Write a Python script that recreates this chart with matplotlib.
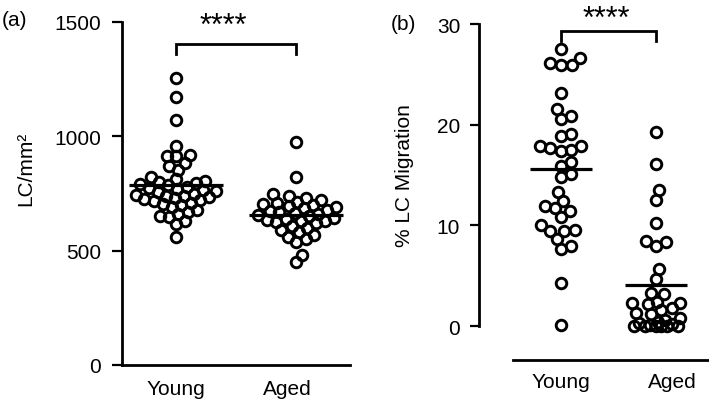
import numpy as np
import matplotlib
matplotlib.use("Agg")
import matplotlib.pyplot as plt

plt.rcParams['font.family'] = ['Liberation Sans', 'DejaVu Sans']

# ---------------- data ----------------
groups = ["Young", "Aged"]
lc_density_young = [1255, 1173, 1071, 959, 918, 912, 915, 882, 871, 854, 820, 813,
                    805, 800, 795, 790, 785, 780, 775, 770, 765, 760, 755, 750,
                    745, 740, 740, 735, 730, 726, 720, 718, 710, 705, 700, 690,
                    680, 670, 660, 650, 646, 630, 617, 558]
lc_density_aged = [974, 823, 748, 740, 730, 720, 715, 710, 705, 700, 695, 690,
                   685, 680, 675, 670, 665, 660, 655, 650, 645, 640, 635, 631,
                   631, 625, 620, 610, 600, 590, 580, 570, 560, 550, 540, 482, 449]
migration_young = [27.5, 26.6, 25.9, 25.9, 26.1, 23.1, 21.6, 20.9, 20.6, 19.1,
                   18.9, 17.9, 17.5, 17.4, 17.7, 17.9, 16.3, 15.9, 15.1, 14.8,
                   13.3, 12.4, 11.7, 11.9, 11.4, 10.8, 10.0, 9.5, 9.4, 9.4,
                   8.6, 7.9, 7.6, 4.3, 0.1]
migration_aged = [19.3, 16.1, 13.5, 12.5, 10.2, 8.4, 8.3, 7.9, 5.7, 4.7,
                  3.3, 3.2, 2.4, 2.3, 2.3, 2.2, 1.8, 1.6, 1.3, 1.2,
                  0.8, 0.6, 0.4, 0.3, 0.2, 0.1, 0, 0, 0, 0, 0, 0]
yticks_a = [0, 500, 1000, 1500]
yticks_b = [0, 10, 20, 30]
ylabel_a = "LC/mm²"
ylabel_b = "% LC Migration"
significance = "****"

# ---------------- layout ----------------
W, H, DPI = 709, 402, 100
fig = plt.figure(figsize=(W / DPI, H / DPI), dpi=DPI)
fig.patch.set_facecolor("white")


def px_axes(left, top, right, bottom):
    return fig.add_axes([left / W, 1 - bottom / H, (right - left) / W, (bottom - top) / H])


def fig_xy(x, y):
    return x / W, 1 - y / H


axa = px_axes(122, 23, 350, 366)
axb = px_axes(479, 25, 709, 361)

axa.set_xlim(-0.45, 1.45)
axa.set_ylim(0, 1500)
axb.set_xlim(-0.863, 1.558)
axb.set_ylim(-3.377, 30)

FS = 15
MS = 7.6
MEW = 2.1
DIAM_PX = (MS + MEW) * DPI / 72.0


def swarm_offsets(ax, values, diam_px, sep_frac, max_half_px):
    tr = ax.transData
    vals = np.asarray(values, dtype=float)
    ypix = tr.transform(np.column_stack([np.zeros(len(vals)), vals]))[:, 1]
    ppu = tr.transform((1, 0))[0] - tr.transform((0, 0))[0]
    min_d = diam_px * sep_frac
    order = np.argsort(ypix)
    cand = [0.0]
    k = 1
    while k * 0.5 <= max_half_px:
        cand += [k * 0.5, -k * 0.5]
        k += 1
    placed = []
    offs = np.zeros(len(vals))
    for i in order:
        y = ypix[i]
        best, best_d = 0.0, -1.0
        chosen = None
        for c in cand:
            if placed:
                d = min(np.hypot(c - px, y - py) for px, py in placed)
            else:
                d = np.inf
            if d >= min_d:
                chosen = c
                break
            if d > best_d + 1e-9:
                best, best_d = c, d
        if chosen is None:
            chosen = best
        placed.append((chosen, y))
        offs[i] = chosen / ppu
    return offs


def draw_panel(ax, data_list, mean_half, sep_frac, max_half_px):
    for xc, vals in enumerate(data_list):
        offs = swarm_offsets(ax, vals, DIAM_PX, sep_frac, max_half_px)
        ax.plot(xc + offs, vals, 'o', ms=MS, mfc='none', mec='black', mew=MEW,
                clip_on=False, zorder=3)
        m = float(np.mean(vals))
        ax.plot([xc - mean_half, xc + mean_half], [m, m], color='black', lw=2.3,
                solid_capstyle='butt', zorder=4, clip_on=False)


draw_panel(axa, [lc_density_young, lc_density_aged], 0.395, 0.7, 40)
draw_panel(axb, [migration_young, migration_aged], 0.33, 0.78, 24)

# spines and ticks
for ax in (axa, axb):
    ax.spines['top'].set_visible(False)
    ax.spines['right'].set_visible(False)
    for s in ('left', 'bottom'):
        ax.spines[s].set_linewidth(2.0)
        ax.spines[s].set_color('black')
    ax.set_facecolor('none')

axb.spines['left'].set_bounds(0, 30)
axb.spines['bottom'].set_bounds(-0.505, 1.558)

axa.set_yticks(yticks_a)
axb.set_yticks(yticks_b)
axa.tick_params(axis='y', direction='out', length=7, width=1.6, pad=8, labelsize=FS)
axb.tick_params(axis='y', direction='out', length=6.5, width=1.6, pad=7, labelsize=FS)

axa.set_xticks([0, 0.925])
axa.set_xticklabels(groups)
axb.set_xticks([0, 1.17])
axb.set_xticklabels(groups)
axa.tick_params(axis='x', length=0, pad=10, labelsize=FS)
axb.tick_params(axis='x', length=0, pad=8.5, labelsize=FS)

# significance brackets
axa.plot([0, 0, 1, 1], [1360, 1403, 1403, 1360], color='black', lw=2.0, clip_on=False,
         solid_joinstyle='miter')
axb.plot([0, 0, 1, 1], [28.3, 29.3, 29.3, 28.3], color='black', lw=2.0, clip_on=False,
         solid_joinstyle='miter')
fig.text(*fig_xy(223.5, 35), significance, fontsize=22, ha='center', va='baseline')
fig.text(*fig_xy(606, 28), significance, fontsize=22, ha='center', va='baseline')

# axis labels and panel letters
fig.text(*fig_xy(26, 169), ylabel_a, fontsize=FS, rotation=90, ha='center', va='center')
fig.text(*fig_xy(405, 176), ylabel_b, fontsize=FS, rotation=90, ha='center', va='center')
fig.text(*fig_xy(2, 20), "(a)", fontsize=FS, ha='left', va='center')
fig.text(*fig_xy(391, 24), "(b)", fontsize=FS, ha='left', va='center')

fig.savefig("out.png", dpi=DPI, facecolor='white')
